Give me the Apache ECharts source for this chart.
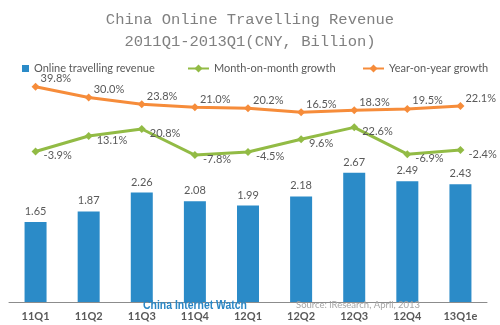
<!DOCTYPE html>
<html><head><meta charset="utf-8">
<script src="https://cdn.jsdelivr.net/npm/echarts@6/dist/echarts.min.js"></script>
<style>html,body{margin:0;padding:0;background:#fff}#c{width:500px;height:325px}</style>
</head><body><div id="c"></div>
<script>
var categories = ['11Q1','11Q2','11Q3','11Q4','12Q1','12Q2','12Q3','12Q4','13Q1e'];
var revenue = [1.65,1.87,2.26,2.08,1.99,2.18,2.67,2.49,2.43];
var momGrowth = [-3.9,13.1,20.8,-7.8,-4.5,9.6,22.6,-6.9,-2.4];
var yoyGrowth = [39.8,30.0,23.8,21.0,20.2,16.5,18.3,19.5,22.1];
var seriesNames = ['Online travelling revenue','Month-on-month growth','Year-on-year growth'];
var titleText = 'China Online Travelling Revenue\n2011Q1-2013Q1(CNY, Billion)';
var watermark = 'China Internet Watch';
var sourceText = 'Source: iResearch, April, 2013';

var BLUE = '#2b8bc8', GREEN = '#92bb45', ORANGE = '#f68c3a', TXT = '#595959';
var F = 'Lato, "Open Sans", sans-serif';
var wmFont = 'bold 12px "Liberation Sans", Arial, sans-serif';
var mctx = document.createElement('canvas').getContext('2d');
mctx.font = wmFont;
var wmScale = 104 / mctx.measureText(watermark).width;

var chart = echarts.init(document.getElementById('c'), null, {renderer:'canvas'});
function pct(v){ return v.toFixed(1) + '%'; }
var legendBase = {top: 58, itemGap: 10, textStyle:{fontFamily:F, fontSize:11, color:TXT}};
chart.setOption({
  animation:false,
  backgroundColor:'#fff',
  title:{text:titleText, left:'center', top:4,
    textStyle:{fontFamily:'"Liberation Mono", monospace', fontSize:15.5, fontWeight:'normal', color:'#808080', lineHeight:22}},
  legend:[
    Object.assign({}, legendBase, {left:17, data:[seriesNames[0]], icon:'rect', itemWidth:7, itemHeight:7}),
    Object.assign({}, legendBase, {left:182, data:[seriesNames[1]], itemWidth:21, itemHeight:10}),
    Object.assign({}, legendBase, {left:357, data:[seriesNames[2]], itemWidth:21, itemHeight:10})
  ],
  grid:{left:9, right:13, top:84, bottom:23, containLabel:false},
  xAxis:{type:'category', data:categories, boundaryGap:true,
    axisLine:{lineStyle:{color:'#8c8c8c', width:1}}, axisTick:{show:false},
    axisLabel:{margin:9, fontFamily:F, fontSize:11, fontWeight:'bold', color:TXT}},
  yAxis:[
    {type:'value', min:0, max:4.5, show:false, splitLine:{show:false}},
    {type:'value', min:-169.3, max:70.25, show:false, splitLine:{show:false}},
    {type:'value', min:-156.6, max:42.26, show:false, splitLine:{show:false}}
  ],
  series:[
    {name:seriesNames[0], type:'bar', data:revenue, yAxisIndex:0, barWidth:22,
      itemStyle:{color:BLUE},
      label:{show:true, position:'top', distance:5, fontFamily:F, fontSize:11, color:TXT,
        formatter:function(p){return p.value.toFixed(2);}}},
    {name:seriesNames[1], type:'line', data:momGrowth, yAxisIndex:1,
      symbol:'diamond', symbolSize:8, lineStyle:{color:GREEN, width:3}, itemStyle:{color:GREEN},
      label:{show:true, position:'right', distance:4, offset:[0,4], fontFamily:F, fontSize:11, color:TXT,
        formatter:function(p){return pct(p.value);}}},
    {name:seriesNames[2], type:'line', data:yoyGrowth, yAxisIndex:2,
      symbol:'diamond', symbolSize:8, lineStyle:{color:ORANGE, width:3}, itemStyle:{color:ORANGE},
      label:{show:true, position:'right', distance:1, offset:[0,-8], fontFamily:F, fontSize:11, color:TXT,
        formatter:function(p){return pct(p.value);}}}
  ],
  graphic:[
    {type:'text', x:143, y:299, scaleX:wmScale, scaleY:1.05, originX:0, originY:0, z:10,
      style:{text:watermark, fill:'#2a86c4', font:wmFont}},
    {type:'text', left:296, top:300, z:10, style:{text:sourceText, fill:'#a6a6a6',
      font:'9.5px Lato, sans-serif'}}
  ]
});
</script></body></html>
